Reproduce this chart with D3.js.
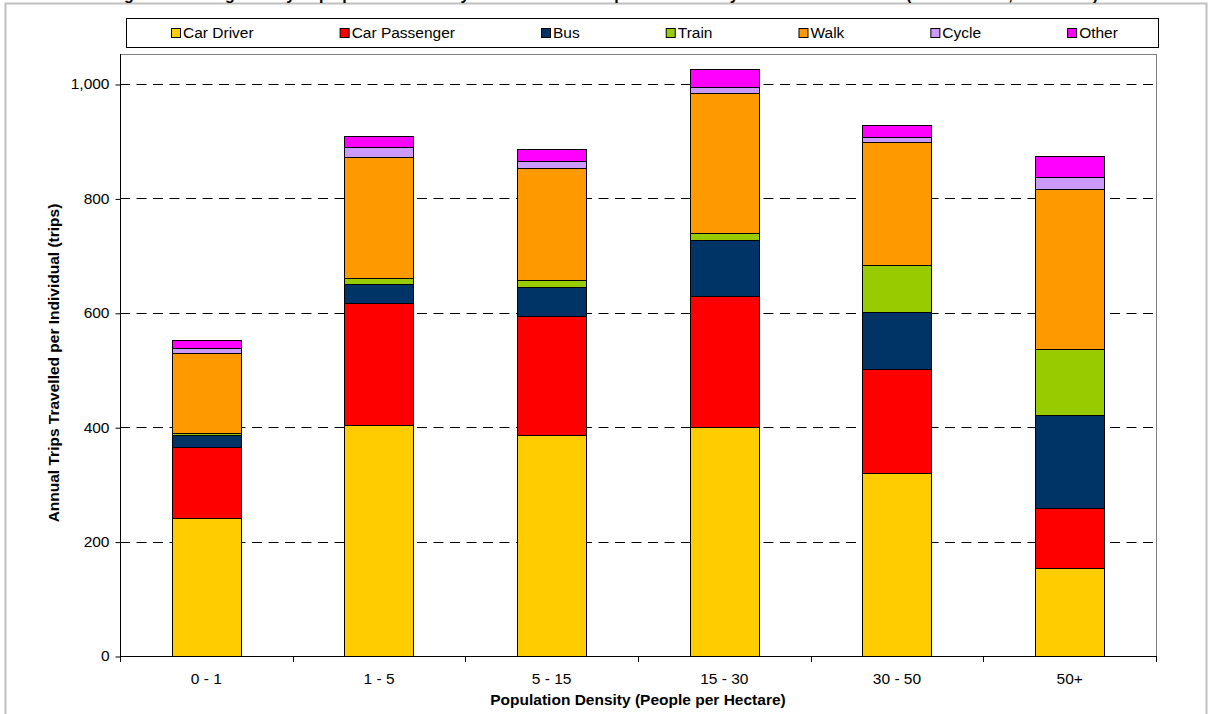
<!DOCTYPE html>
<html><head><meta charset="utf-8">
<script src="https://cdn.jsdelivr.net/npm/d3@7"></script>
<style>body{margin:0;background:#fff;} svg{display:block;font-family:"Liberation Sans",Arial,sans-serif;}</style>
</head><body>
<svg id="chart" width="1208" height="714"></svg>
<script>
const categories = ["0 - 1","1 - 5","5 - 15","15 - 30","30 - 50","50+"];
const carDriver    = [241,404,387,401,320,153];
const carPassenger = [124,213,207,229,181,105];
const bus          = [21,34,51,98,100,163];
const train        = [3,9,13,11,83,116];
const walk         = [141,213,196,245,214,280];
const cycle        = [8,16,11,10,10,21];
const other        = [15,20,21,33,21,36];
const seriesNames  = ["Car Driver","Car Passenger","Bus","Train","Walk","Cycle","Other"];
const seriesColors = ["#FFCC00","#FF0000","#003366","#99CC00","#FF9900","#CC99FF","#FF00FF"];
const yTicks = [0,200,400,600,800,1000];
const titleText = "Figure 4: Average Yearly Trips per Individual by Main Mode and Population Density of Area of Residence (Great Britain, 2002/2003)";
const xTitle = "Population Density (People per Hectare)";
const yTitle = "Annual Trips Travelled per Individual (trips)";

const seriesValues = [carDriver,carPassenger,bus,train,walk,cycle,other];
const rows = categories.map((c,i)=>{
  const r = {category:c};
  seriesNames.forEach((s,j)=>{ r[s]=seriesValues[j][i]; });
  return r;
});

const svg = d3.select("#chart");
const L=120, R=1156, T=54, B=656;
const fs = "15.5px";

// outer frame
svg.append("rect").attr("x",5.5).attr("y",3.5).attr("width",1201).attr("height",730)
  .attr("fill","none").attr("stroke","#c0c0c0").attr("stroke-width",2);

// title (clipped at top, as in the reference)
svg.append("text").attr("x",604).attr("y",-0.5).attr("text-anchor","middle")
  .attr("font-weight","bold").attr("font-size","16px").text(titleText);

const x = d3.scaleBand().domain(categories).range([L,R]).padding(0);
const y = d3.scaleLinear().domain([0,1000]).range([B,84]);

// gridlines
svg.append("g").selectAll("line").data(yTicks.filter(d=>d>0)).join("line")
  .attr("x1",L).attr("x2",R)
  .attr("y1",d=>Math.round(y(d))+0.5).attr("y2",d=>Math.round(y(d))+0.5)
  .attr("stroke","#000").attr("stroke-dasharray","10,6.5");

// plot border
svg.append("rect").attr("x",L+0.5).attr("y",T+0.5).attr("width",R-L).attr("height",B-T)
  .attr("fill","none").attr("stroke","#808080");

// bars
const stack = d3.stack().keys(seriesNames)(rows);
const bw = x.bandwidth();
svg.append("g").selectAll("g").data(stack).join("g")
  .attr("fill",(d,i)=>seriesColors[i])
  .selectAll("rect").data(d=>d).join("rect")
  .attr("x",d=>Math.round(x(d.data.category)+bw*0.3)+0.5)
  .attr("width",Math.round(bw*0.4))
  .attr("y",d=>Math.round(y(d[1]))+0.5)
  .attr("height",d=>Math.round(y(d[0]))-Math.round(y(d[1])))
  .attr("stroke","#000").attr("stroke-width",1);

// y axis
const yAxis = svg.append("g").attr("transform",`translate(${L+0.5},0)`)
  .call(d3.axisLeft(y).tickValues(yTicks).tickSize(5).tickPadding(6).tickFormat(d3.format(",")));
yAxis.select(".domain").remove();
yAxis.selectAll("line").attr("stroke","#000").attr("transform","translate(0,0.5)");
yAxis.selectAll("text").attr("font-size",fs).attr("font-family","Liberation Sans, Arial, sans-serif").attr("fill","#000");
svg.append("line").attr("x1",L+0.5).attr("x2",L+0.5).attr("y1",T).attr("y2",B+1).attr("stroke","#000");

// x axis
svg.append("line").attr("x1",L).attr("x2",R+1).attr("y1",B+0.5).attr("y2",B+0.5).attr("stroke","#000");
const bounds = categories.map(c=>x(c)).concat([x.range()[1]]);
svg.append("g").selectAll("line").data(bounds).join("line")
  .attr("x1",d=>Math.round(d)+0.5).attr("x2",d=>Math.round(d)+0.5)
  .attr("y1",B).attr("y2",B+6).attr("stroke","#000");
svg.append("g").selectAll("text").data(categories).join("text")
  .attr("x",d=>x(d)+bw/2).attr("y",684).attr("text-anchor","middle")
  .attr("font-size",fs).text(d=>d);

// axis titles
svg.append("text").attr("x",(L+R)/2).attr("y",705).attr("text-anchor","middle")
  .attr("font-weight","bold").attr("font-size",fs).text(xTitle);
svg.append("text").attr("transform",`translate(59,${(T+B)/2+8}) rotate(-90)`)
  .attr("text-anchor","middle").attr("font-weight","bold").attr("font-size",fs).text(yTitle);

// legend
svg.append("rect").attr("x",126.5).attr("y",18.5).attr("width",1032).attr("height",29)
  .attr("fill","#fff").attr("stroke","#000");
let lx = 171;
seriesNames.forEach((s,i)=>{
  const g = svg.append("g");
  g.append("rect").attr("x",lx+0.5).attr("y",28.5).attr("width",9).attr("height",9)
    .attr("fill",seriesColors[i]).attr("stroke","#000");
  const t = g.append("text").attr("x",lx+12).attr("y",38).attr("font-size",fs).text(s);
  lx = lx + 12 + t.node().getComputedTextLength() + 86;
});
</script>
</body></html>
